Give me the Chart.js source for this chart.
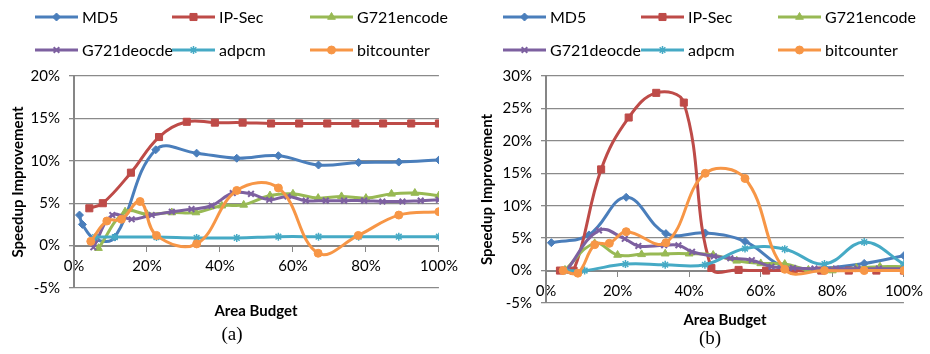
<!DOCTYPE html>
<html>
<head>
<meta charset="utf-8">
<script src="https://cdn.jsdelivr.net/npm/chart.js@4.4.1/dist/chart.umd.min.js"></script>
<style>
  body { margin: 0; background: #fff; }
  #wrap { position: relative; width: 930px; height: 354px; font-family: Lato, sans-serif; }
  canvas { position: absolute; top: 0; }
  .axisTitle { position: absolute; font: bold 15px Lato, sans-serif; transform: translate(-50%, -50%); white-space: nowrap; }
  .panelTag { position: absolute; font: 19px "Liberation Serif", serif; transform: translate(-50%, -50%); }
</style>
</head>
<body>
<div id="wrap">
  <canvas id="chartA" width="465" height="354" style="left:0"></canvas>
  <canvas id="chartB" width="465" height="354" style="left:465px"></canvas>
  <div class="axisTitle" style="left:256px; top:310px">Area Budget</div>
  <div class="axisTitle" style="left:725px; top:319px">Area Budget</div>
  <div class="panelTag" style="left:232px; top:334px">(a)</div>
  <div class="panelTag" style="left:710px; top:338px">(b)</div>
</div>
<script>
const seriesNames = ['MD5', 'IP-Sec', 'G721encode', 'G721deocde', 'adpcm', 'bitcounter'];
const seriesColors = ['#4A7EBB', '#BE4B48', '#98B954', '#7D60A0', '#46AAC5', '#F79646'];
const markerStyles = ['rectRot', 'rect', 'triangle', 'crossRot', 'star', 'circle'];
const markerSizes = [4, 5, 4.5, 4, 4, 4];
const markerBorders = [1, 1, 1, 2, 1.5, 1];

// (a) area budget % -> speedup %
const md5A = [[1.5,3.6],[2.3,2.5],[6,0.7],[11.2,1.0],[22.4,11.3],[33.6,10.9],[44.6,10.3],[56,10.6],[67,9.5],[78,9.8],[89,9.85],[100,10.1]];
const ipsecA = [[4.2,4.4],[7.9,5.0],[15.6,8.6],[23.3,12.8],[30.9,14.6],[38.6,14.5],[46.2,14.5],[54,14.4],[61.7,14.4],[69.4,14.4],[77.1,14.4],[84.7,14.4],[92.4,14.4],[100,14.4]];
const g721encA = [[6.7,-0.3],[14,4.0],[20,3.7],[26.8,3.9],[33.4,3.9],[40.5,4.7],[46.5,4.8],[53.7,5.9],[60,6.1],[66.9,5.6],[73.3,5.8],[80,5.6],[87,6.1],[93.4,6.2],[100,5.9]];
const g721decA = [[5.3,-0.2],[10.5,3.6],[15.8,3.1],[21.3,3.6],[26.8,4.0],[32.2,4.3],[37.7,4.7],[43.5,6.2],[48.5,6.1],[53.5,5.4],[58.5,5.8],[63.5,5.3],[69,5.3],[74,5.3],[79.5,5.3],[84.5,5.2],[90,5.2],[95,5.3],[100,5.4]];
const adpcmA = [[5.8,1.0],[11.2,1.0],[22.6,1.0],[33.6,0.9],[44.6,0.9],[56,1.05],[67,1.05],[78,1.05],[89,1.05],[100,1.05]];
const bitcountA = [[4.6,0.5],[9,2.9],[13,3.1],[18.1,5.2],[22.6,1.2],[33.6,0.2],[44.6,6.5],[56,6.8],[66.9,-0.9],[77.9,1.2],[89,3.6],[100,4.0]];

// (b)
const md5B = [[1.5,4.3],[12,5.5],[22.4,11.3],[33.5,5.7],[44.5,5.8],[55.6,4.5],[66.7,0.5],[77.8,0.4],[88.9,1.1],[100,2.3]];
const ipsecB = [[3.9,0],[7.7,0],[15.4,15.6],[23.1,23.6],[30.8,27.4],[38.5,25.9],[46.2,0.4],[53.8,0.1],[61.5,0],[69.2,0],[76.9,0],[84.6,0],[92.3,0],[100,0]];
const g721encB = [[5.3,0.1],[13.6,4.2],[20,2.4],[26.7,2.5],[33.3,2.6],[40,2.6],[46.7,2.4],[53.3,1.5],[60,1.1],[66.7,1.0],[73.3,0.1],[80,0],[86.7,0.4],[93.3,0.6],[100,0.6]];
const g721decB = [[5.7,0],[14.8,6.2],[22,4.9],[25.8,3.8],[33,3.9],[37,3.9],[40.8,2.9],[46.9,2.2],[51.5,1.9],[57.5,1.6],[63,0.6],[69,0.4],[75,0.3],[81,0.3],[87,0.3],[93,0.3],[100,0.3]];
const adpcmB = [[5.3,0],[10.8,0],[22.2,1.0],[33.3,0.9],[44.4,0.9],[55.6,3.4],[66.7,3.3],[77.8,1.0],[88.9,4.4],[100,1.0]];
const bitcountB = [[4.8,0],[8.9,-0.4],[13.6,4.0],[17.7,4.2],[22.4,6.0],[33.5,4.3],[44.5,15.0],[55.6,14.2],[66.7,0.2],[77.8,0],[88.9,0],[100,0]];

const xTicks = [0, 20, 40, 60, 80, 100];

Chart.defaults.font.family = 'Lato, sans-serif';
Chart.defaults.color = '#000';

// three-column legend drawn above the plot
const gridLegend = {
  id: 'gridLegend',
  afterDraw(chart, args, opts) {
    const ctx = chart.ctx;
    ctx.save();
    chart.data.datasets.forEach((ds, i) => {
      const x = opts.cols[i % 3];
      const y = opts.rows[Math.floor(i / 3)];
      ctx.strokeStyle = ds.borderColor;
      ctx.lineWidth = 3;
      ctx.beginPath();
      ctx.moveTo(x, y);
      ctx.lineTo(x + 43, y);
      ctx.stroke();
      ctx.fillStyle = ds.borderColor;
      ctx.lineWidth = ds.pointBorderWidth;
      Chart.helpers.drawPoint(ctx, {
        pointStyle: ds.pointStyle, radius: ds.pointRadius, rotation: 0, borderWidth: ds.pointBorderWidth
      }, x + 21.5, y);
      ctx.fillStyle = '#000';
      ctx.font = '16px Lato, sans-serif';
      ctx.textBaseline = 'middle';
      ctx.fillText(ds.label, x + 47, y + 1);
    });
    ctx.restore();
  }
};

function makeChart(id, series, yMax, p) {
  const datasets = series.map((pts, i) => ({
    label: seriesNames[i],
    data: pts.map(([x, y]) => ({ x, y })),
    borderColor: seriesColors[i],
    backgroundColor: seriesColors[i],
    borderWidth: 3,
    pointStyle: markerStyles[i],
    pointRadius: markerSizes[i],
    pointBorderWidth: markerBorders[i],
    tension: 0.4,
    order: series.length - i
  }));
  return new Chart(document.getElementById(id), {
    type: 'line',
    data: { datasets },
    plugins: [gridLegend],
    options: {
      responsive: false,
      animation: false,
      layout: { padding: { top: 76, left: 0, right: p.right, bottom: p.bottom } },
      plugins: {
        legend: { display: false },
        tooltip: { enabled: false },
        gridLegend: { cols: p.cols, rows: [17, 50] }
      },
      scales: {
        x: {
          type: 'linear',
          position: { y: 0 },
          min: 0, max: 100,
          afterBuildTicks: s => { s.ticks = xTicks.map(v => ({ value: v })); },
          ticks: { callback: v => v + '%', font: { size: 15 }, maxRotation: 0, autoSkip: false, padding: 7 },
          grid: { drawOnChartArea: false, color: '#868686', tickLength: 5 },
          border: { color: '#868686', width: 2 }
        },
        y: {
          min: -5, max: yMax,
          ticks: { stepSize: 5, callback: v => v + '%', font: { size: 15 }, padding: 9 },
          grid: { color: '#8a8a8a', lineWidth: 1.3, tickLength: 5, borderDash: [4, 2] },
          border: { color: '#868686', width: 2 },
          title: {
            display: true, text: 'Speedup Improvement',
            font: { size: 15, weight: 'bold' }, padding: { top: p.titlePad, bottom: 0 }
          },
          afterFit: s => { s.width = p.axisWidth; }
        }
      }
    }
  });
}

makeChart('chartA', [md5A, ipsecA, g721encA, g721decA, adpcmA, bitcountA], 20,
  { right: 26, bottom: 66, axisWidth: 74, titlePad: 9, cols: [35, 172, 310] });
makeChart('chartB', [md5B, ipsecB, g721encB, g721decB, adpcmB, bitcountB], 30,
  { right: 23, bottom: 51, axisWidth: 81, titlePad: 13, cols: [38, 176, 313] });
</script>
</body>
</html>
